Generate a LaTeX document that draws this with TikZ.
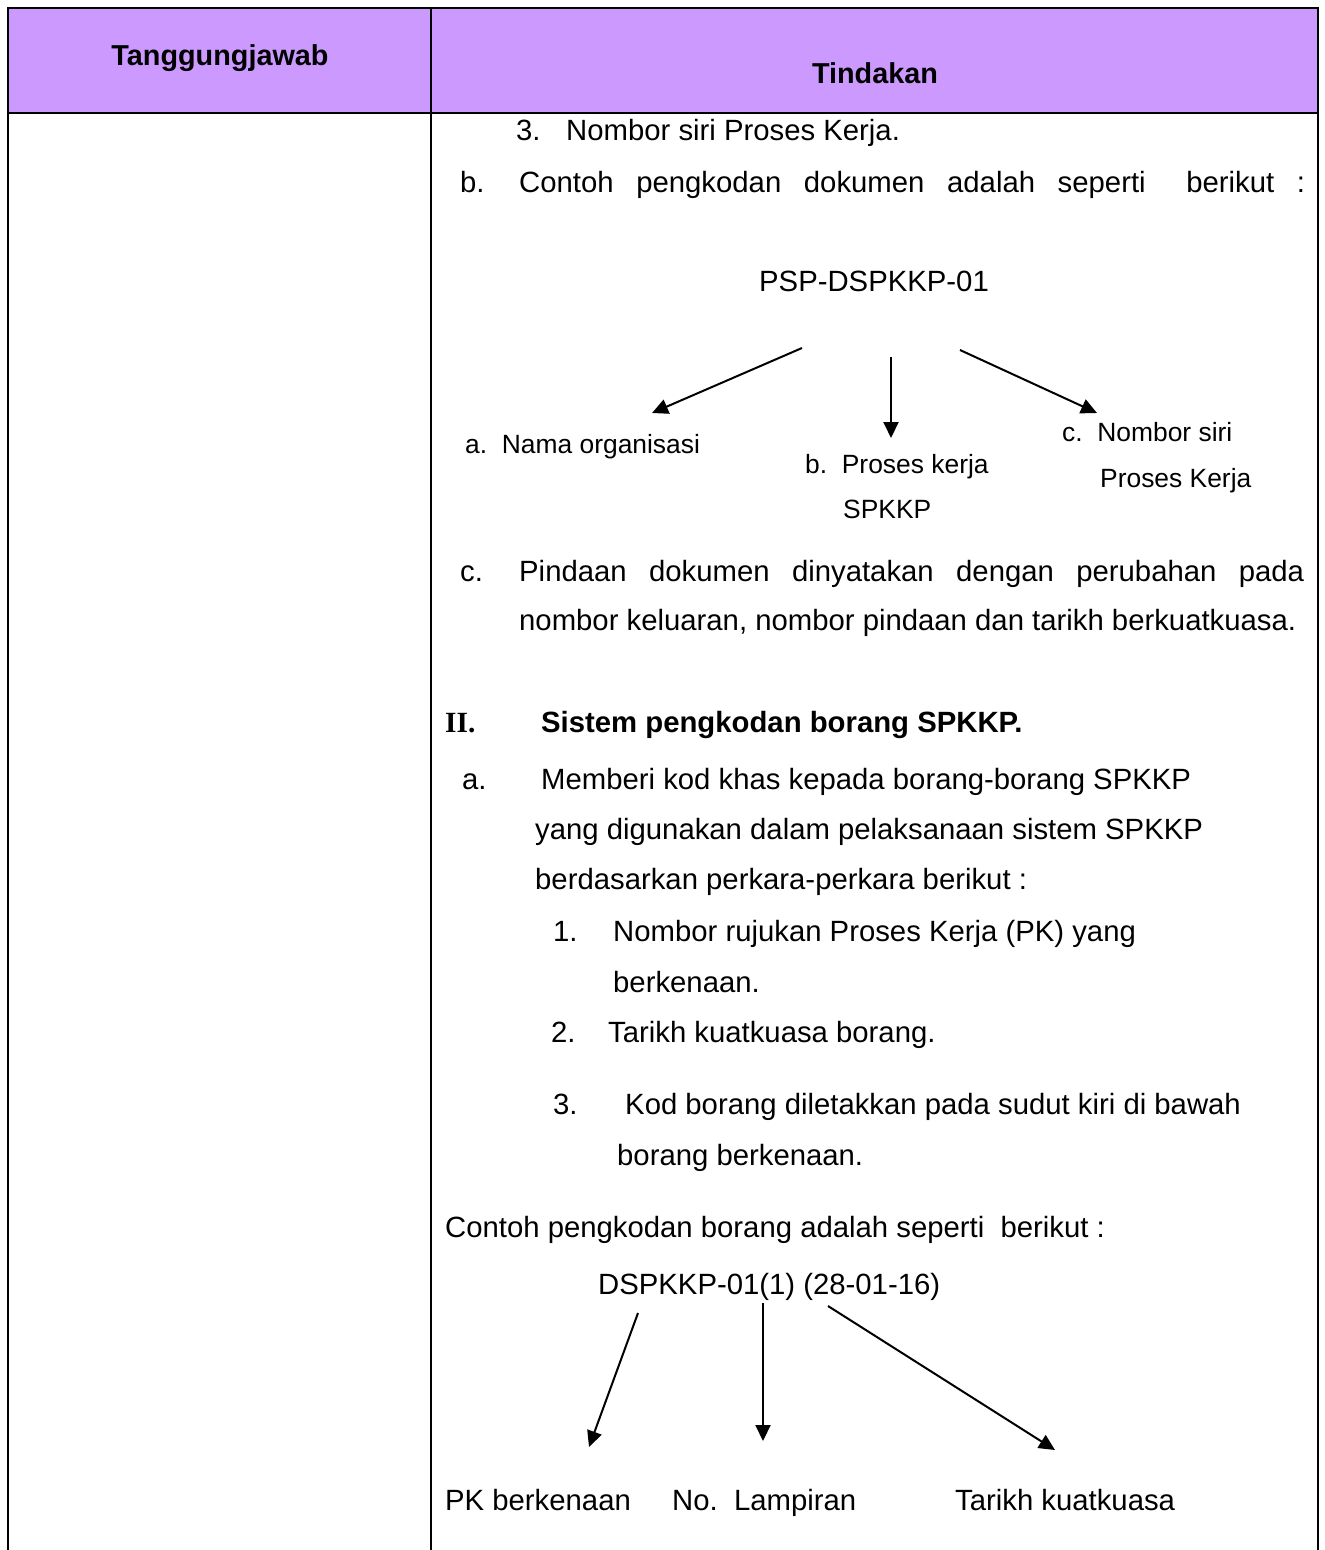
\documentclass[tikz,border=0pt]{standalone}
\usepackage{fontspec}
\setmainfont{Liberation Sans}
\newfontfamily\timesfont{Liberation Serif}
\usetikzlibrary{arrows.meta}
\definecolor{hdrfill}{HTML}{CC99FF}
\begin{document}
\begin{tikzpicture}[x=1pt,y=-1pt,
  txt/.style={inner sep=0pt, anchor=base west, font=\fontsize{29.3}{35}\selectfont},
  lbl/.style={inner sep=0pt, anchor=base west, font=\fontsize{26.4}{31}\selectfont},
  hd/.style={inner sep=0pt, anchor=base, font=\fontsize{28.8}{34}\selectfont\bfseries},
  tbl/.style={line width=2.5pt},
  arr/.style={line width=2pt, -{Triangle[length=16pt,width=15pt]}}]
\useasboundingbox (0,0) rectangle (1325,1550);
% table
\fill[hdrfill] (8,8) rectangle (1318,113);
\draw[tbl] (8,1560) -- (8,8) -- (1318,8) -- (1318,1560);
\draw[tbl] (8,113) -- (1318,113);
\draw[tbl] (431,8) -- (431,1560);
% header
\node[hd] (h1) at (220,65) {Tanggungjawab};
\node[hd] (h2) at (875,83) {Tindakan};
% part I continued
\node[txt] (l1n) at (516,140) {3.};
\node[txt] (l1) at (566,140) {Nombor siri Proses Kerja.};
\node[txt] (l2n) at (460,192) {b.};
\node[txt] (l2) at (519,192) {\makebox[786pt][s]{Contoh pengkodan dokumen adalah seperti\hspace{18pt} berikut :}};
\node[txt, anchor=base] (psp) at (874,291) {PSP-DSPKKP-01};
\coordinate (p1s) at (802,348); \coordinate (p1e) at (652,413);
\coordinate (p2s) at (891,357); \coordinate (p2e) at (891,438);
\coordinate (p3s) at (960,350); \coordinate (p3e) at (1097,413);
\draw[arr] (p1s) -- (p1e);
\draw[arr] (p2s) -- (p2e);
\draw[arr] (p3s) -- (p3e);
\node[lbl] (la) at (465,453) {a.\ \ Nama organisasi};
\node[lbl] (lb1) at (805,473) {b.\ \ Proses kerja};
\node[lbl] (lb2) at (843,518) {SPKKP};
\node[lbl] (lc1) at (1062,441) {c.\ \ Nombor siri};
\node[lbl] (lc2) at (1100,487) {Proses Kerja};
\node[txt] (l3n) at (460,581) {c.};
\node[txt] (l3) at (519,581) {\makebox[785pt][s]{Pindaan dokumen dinyatakan dengan perubahan pada}};
\node[txt] (l4) at (519,630) {nombor keluaran, nombor pindaan dan tarikh berkuatkuasa.};
% part II
\node[txt] (s2n) at (445,732) {\timesfont\bfseries II.};
\node[txt] (s2) at (541,732) {\bfseries Sistem pengkodan borang SPKKP.};
\node[txt] (m1n) at (462,789) {a.};
\node[txt] (m1) at (541,789) {Memberi kod khas kepada borang-borang SPKKP};
\node[txt] (m2) at (535,839) {yang digunakan dalam pelaksanaan sistem SPKKP};
\node[txt] (m3) at (535,889) {berdasarkan perkara-perkara berikut :};
\node[txt] (n1n) at (553,941) {1.};
\node[txt] (n1) at (613,941) {Nombor rujukan Proses Kerja (PK) yang};
\node[txt] (n1b) at (613,992) {berkenaan.};
\node[txt] (n2n) at (551,1042) {2.};
\node[txt] (n2) at (608,1042) {Tarikh kuatkuasa borang.};
\node[txt] (n3n) at (553,1114) {3.};
\node[txt] (n3) at (625,1114) {Kod borang diletakkan pada sudut kiri di bawah};
\node[txt] (n3b) at (617,1165) {borang berkenaan.};
\node[txt] (ex) at (445,1237) {Contoh pengkodan borang adalah seperti\ \ berikut :};
\node[txt] (code) at (598,1294) {DSPKKP-01(1) (28-01-16)};
\coordinate (q1s) at (638,1313); \coordinate (q1e) at (589,1447);
\coordinate (q2s) at (763,1303); \coordinate (q2e) at (763,1441);
\coordinate (q3s) at (828,1306); \coordinate (q3e) at (1055,1450);
\draw[arr] (q1s) -- (q1e);
\draw[arr] (q2s) -- (q2e);
\draw[arr] (q3s) -- (q3e);
\node[txt] (r1) at (445,1510) {PK berkenaan};
\node[txt] (r2) at (672,1510) {No.\ \ Lampiran};
\node[txt] (r3) at (955,1510) {Tarikh kuatkuasa};
\end{tikzpicture}
\end{document}
